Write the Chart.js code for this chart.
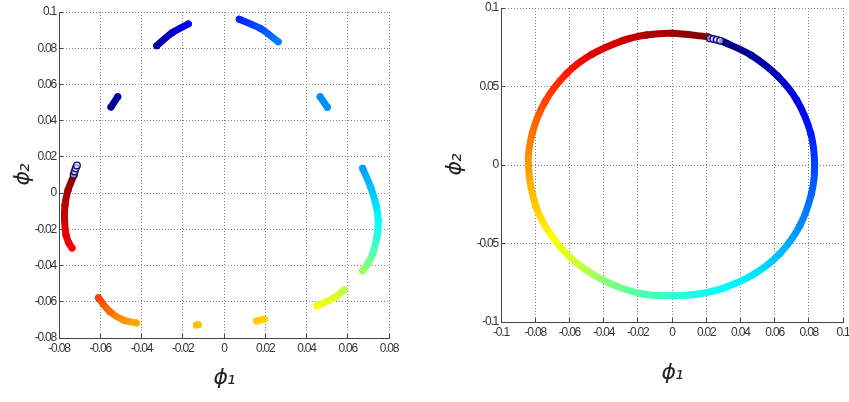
<!DOCTYPE html>
<html>
<head>
<meta charset="utf-8">
<script src="https://cdn.jsdelivr.net/npm/chart.js@4.4.1/dist/chart.umd.min.js"></script>
<style>
  html, body { margin: 0; padding: 0; background: #fff; }
  #wrap { position: relative; width: 849px; height: 402px; overflow: hidden; }
  canvas { position: absolute; top: 0; }
</style>
</head>
<body>
<div id="wrap">
  <canvas id="leftChart" width="425" height="402" style="left:0"></canvas>
  <canvas id="rightChart" width="419" height="402" style="left:430px"></canvas>
</div>
<script>
// points are [phi1, phi2, colour value 0..1 on the jet scale]

// left panel: broken arcs, listed clockwise
const arcNavy = [[-0.0548, 0.0475, 0.01], [-0.0515, 0.0532, 0.03]];
const arcTopLeft = [[-0.0326, 0.0814, 0.03], [-0.0252, 0.0885, 0.075], [-0.0173, 0.0934, 0.12]];
const arcTopRight = [[0.0074, 0.0960, 0.16], [0.0175, 0.0910, 0.2], [0.0263, 0.0836, 0.25]];
const arcSkyBlue = [[0.0466, 0.0532, 0.26], [0.0501, 0.0474, 0.27]];
const arcRight = [[0.0672, 0.0137, 0.28], [0.0712, 0.0030, 0.315], [0.0738, -0.0070, 0.345],
                  [0.0748, -0.0150, 0.375], [0.0742, -0.0240, 0.41], [0.0722, -0.0330, 0.455],
                  [0.0700, -0.0385, 0.49], [0.0671, -0.0429, 0.53]];
const arcYellow = [[0.0583, -0.0535, 0.56], [0.0530, -0.0581, 0.59], [0.0449, -0.0623, 0.62]];
const arcGold = [[0.0195, -0.0697, 0.67], [0.0158, -0.0706, 0.675]];
const arcDot = [[-0.0125, -0.0727, 0.685], [-0.0134, -0.0728, 0.69]];
const arcOrange = [[-0.0425, -0.0717, 0.71], [-0.0488, -0.0701, 0.73], [-0.0553, -0.0655, 0.77],
                   [-0.0609, -0.0578, 0.81]];
const arcLeft = [[-0.0737, -0.0303, 0.875], [-0.0752, -0.0276, 0.885], [-0.0766, -0.0231, 0.9],
                 [-0.0773, -0.0149, 0.92], [-0.0771, -0.0066, 0.94], [-0.0756, 0.0017, 0.965],
                 [-0.0727, 0.0100, 0.99]];
const leftOpen = [[-0.0729, 0.0102], [-0.0724, 0.0120], [-0.0719, 0.0137], [-0.0713, 0.0153]];

// right panel: one ring, clockwise from the top right
const ring = [
  [0.0300, 0.0785, 0.0], [0.0463, 0.0699, 0.025], [0.0617, 0.0567, 0.0625], [0.0729, 0.0414, 0.1],
  [0.0811, 0.0203, 0.15], [0.0834, 0.0, 0.19], [0.0816, -0.0180, 0.225], [0.0747, -0.0388, 0.2625],
  [0.0630, -0.0565, 0.3125], [0.0483, -0.0693, 0.35], [0.0296, -0.0786, 0.375], [0.0144, -0.0823, 0.4],
  [0.0, -0.0832, 0.425], [-0.0168, -0.0822, 0.45], [-0.0363, -0.0754, 0.5], [-0.0557, -0.0626, 0.575],
  [-0.0698, -0.0460, 0.625], [-0.0795, -0.0267, 0.675], [-0.0840, 0.0, 0.725], [-0.0817, 0.0201, 0.76],
  [-0.0741, 0.0406, 0.81], [-0.0614, 0.0585, 0.85], [-0.0468, 0.0705, 0.9], [-0.0284, 0.0794, 0.925],
  [-0.0149, 0.0828, 0.95], [0.0, 0.0839, 0.975], [0.0209, 0.0817, 1.0]
];
const rightOpen = [[0.0222, 0.0808], [0.0242, 0.0803], [0.0262, 0.0798], [0.0282, 0.0792]];

// tick values
const leftXTicks = [-0.08, -0.06, -0.04, -0.02, 0, 0.02, 0.04, 0.06, 0.08];
const leftYTicks = [-0.08, -0.06, -0.04, -0.02, 0, 0.02, 0.04, 0.06, 0.08, 0.1];
const rightXTicks = [-0.1, -0.08, -0.06, -0.04, -0.02, 0, 0.02, 0.04, 0.06, 0.08, 0.1];
const rightYTicks = [-0.1, -0.05, 0, 0.05, 0.1];

function jet(t) {
  const c = v => Math.round(255 * Math.min(1, Math.max(0, v)));
  const r = c(Math.min(4 * t - 1.5, -4 * t + 4.5));
  const g = c(Math.min(4 * t - 0.5, -4 * t + 3.5));
  const b = c(Math.min(4 * t + 0.5, -4 * t + 2.5));
  return 'rgb(' + r + ',' + g + ',' + b + ')';
}

function arcDataset(points, cx, width) {
  return {
    data: points.map(p => ({ x: p[0], y: p[1] })),
    showLine: true,
    tension: 0.35,
    borderWidth: width,
    borderColor: jet(points[0][2]),
    borderCapStyle: 'round',
    borderJoinStyle: 'round',
    pointRadius: width / 2,
    pointHoverRadius: width / 2,
    pointBorderWidth: 0,
    pointBackgroundColor: ctx => jet(points[ctx.dataIndex][2]),
    segment: {
      borderColor: s => {
        const g = cx.createLinearGradient(s.p0.x, s.p0.y, s.p1.x, s.p1.y);
        g.addColorStop(0, jet(points[s.p0DataIndex][2]));
        g.addColorStop(1, jet(points[s.p1DataIndex][2]));
        return g;
      },
      // keeps every segment separate so each gets its own gradient
      borderDashOffset: s => s.p0DataIndex
    }
  };
}

function openDataset(points) {
  return {
    data: points.map(p => ({ x: p[0], y: p[1] })),
    showLine: false,
    pointRadius: 3.3,
    pointHoverRadius: 3.3,
    pointBorderWidth: 1.4,
    pointBorderColor: 'rgb(10,10,130)',
    pointBackgroundColor: 'rgba(235,235,250,0.6)'
  };
}

const tickFont = { family: "'Liberation Sans', Arial, sans-serif", size: 12 };
const titleFont = { family: "'DejaVu Sans', sans-serif", size: 22, style: 'italic' };
const fmt = v => String(parseFloat(Number(v).toFixed(3)));

// MATLAB-style squeezed tick text
const narrowText = {
  id: 'narrowText',
  beforeLayout: chart => { chart.ctx.letterSpacing = '-1.2px'; },
  beforeDraw: chart => { chart.ctx.letterSpacing = '-1.2px'; }
};

function axis(min, max, tickList, fixedSize, horizontal, titleText, titlePad) {
  return {
    type: 'linear',
    min: min,
    max: max,
    afterBuildTicks: s => { s.ticks = tickList.map(v => ({ value: v })); },
    afterFit: s => {
      if (horizontal) { s.height = fixedSize; s.paddingLeft = 0; s.paddingRight = 0; }
      else { s.width = fixedSize; s.paddingTop = 0; s.paddingBottom = 0; }
    },
    ticks: { callback: fmt, font: tickFont, color: '#333', padding: 7, maxRotation: 0, autoSkip: false },
    // negative tick length turns the tick marks inwards, like MATLAB
    grid: { color: '#858585', lineWidth: 1, drawTicks: true, tickLength: -4, tickColor: '#444', tickWidth: 1 },
    border: { color: '#444', width: 1, dash: [1, 2] },
    title: { display: true, text: titleText, font: titleFont, color: '#222', padding: titlePad }
  };
}

function makeChart(id, datasets, xs, ys, pad) {
  return new Chart(document.getElementById(id), {
    type: 'scatter',
    data: { datasets: datasets },
    plugins: [narrowText],
    options: {
      responsive: false,
      animation: false,
      layout: { padding: pad },
      plugins: { legend: { display: false }, tooltip: { enabled: false } },
      scales: { x: xs, y: ys }
    }
  });
}

const leftCtx = document.getElementById('leftChart').getContext('2d');
const rightCtx = document.getElementById('rightChart').getContext('2d');

const leftArcs = [arcNavy, arcTopLeft, arcTopRight, arcSkyBlue, arcRight, arcYellow,
                  arcGold, arcDot, arcOrange, arcLeft];

makeChart('leftChart',
  [openDataset(leftOpen)].concat(leftArcs.map(a => arcDataset(a, leftCtx, 7))),
  axis(-0.08, 0.08, leftXTicks, 64, true, 'ϕ₁', { top: 0, bottom: 11 }),
  axis(-0.08, 0.1, leftYTicks, 59, false, 'ϕ₂', { top: 10, bottom: 0 }),
  { top: 12, right: 36, left: 0, bottom: 0 });

makeChart('rightChart',
  [openDataset(rightOpen), arcDataset(ring, rightCtx, 7)],
  axis(-0.1, 0.1, rightXTicks, 80, true, 'ϕ₁', { top: 0, bottom: 16 }),
  axis(-0.1, 0.1, rightYTicks, 71, false, 'ϕ₂', { top: 12, bottom: 0 }),
  { top: 8, right: 6, left: 0, bottom: 0 });
</script>
</body>
</html>
